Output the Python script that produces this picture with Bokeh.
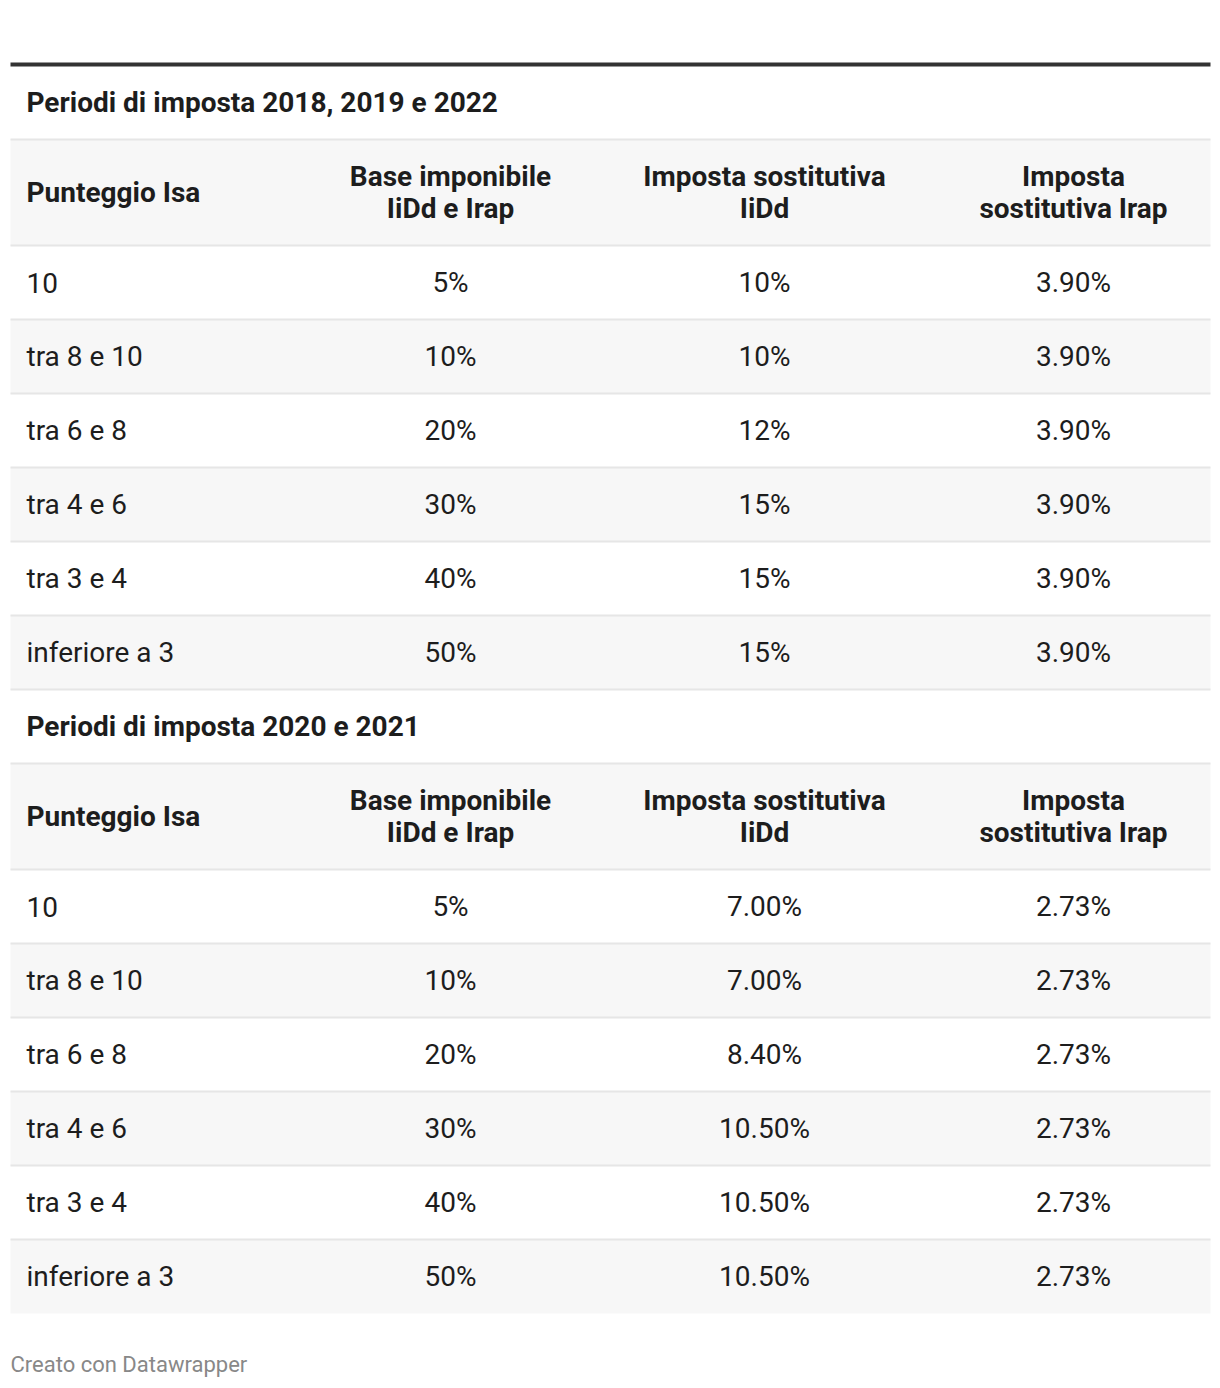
from bokeh.plotting import figure
from bokeh.models import Range1d, ColumnDataSource
from bokeh.core.properties import value
from bokeh.embed import file_html
from bokeh.resources import INLINE

# ---------------- data ----------------
section_titles = ["Periodi di imposta 2018, 2019 e 2022", "Periodi di imposta 2020 e 2021"]
column_headers = ["Punteggio Isa", "Base imponibile\nIiDd e Irap", "Imposta sostitutiva\nIiDd", "Imposta\nsostitutiva Irap"]
scores = ["10", "tra 8 e 10", "tra 6 e 8", "tra 4 e 6", "tra 3 e 4", "inferiore a 3"]
base_imponibile = ["5%", "10%", "20%", "30%", "40%", "50%"]
iidd_a = ["10%", "10%", "12%", "15%", "15%", "15%"]
irap_a = ["3.90%", "3.90%", "3.90%", "3.90%", "3.90%", "3.90%"]
iidd_b = ["7.00%", "7.00%", "8.40%", "10.50%", "10.50%", "10.50%"]
irap_b = ["2.73%", "2.73%", "2.73%", "2.73%", "2.73%", "2.73%"]
footer = "Creato con Datawrapper"

tables = [
    (section_titles[0], [scores, base_imponibile, iidd_a, irap_a]),
    (section_titles[1], [scores, base_imponibile, iidd_b, irap_b]),
]

# ---------------- layout ----------------
W, H = 1220, 1388
OFF = 0
FONT = value("Roboto")
DARK = "#1d1d1d"
BG_ALT = "#f7f7f7"
BORDER = "#e6e6e6"
FS = "28px"

p = figure(width=W, height=H, output_backend="svg", toolbar_location=None,
           x_range=Range1d(0, W), y_range=Range1d(H, 0),
           min_border=0, min_border_left=0, min_border_right=0,
           min_border_top=0, min_border_bottom=0)
p.xaxis.visible = False
p.yaxis.visible = False
p.grid.visible = False
p.outline_line_color = None
p.background_fill_color = "white"
p.border_fill_color = "white"

def px(x):
    return x - OFF

def py(y):
    return y - OFF

LEFT, RIGHT = px(10), px(1210)
col_x = [px(26), px(450), px(764), px(1073)]
col_align = ["left", "center", "center", "center"]

# top rule
p.quad(left=[LEFT], right=[RIGHT], top=[py(62)], bottom=[py(66)],
       fill_color="#333333", line_color=None)

section_tops = [66, 690]
TITLE_H = 73
HEADER_H = 106
ROW_H = 74

for t, (title, cols) in enumerate(tables):
    top = section_tops[t]
    title_y = top + 36
    p.text(x=[col_x[0]], y=[py(title_y)], text=[title], text_font=FONT,
           text_font_style="bold", text_font_size=FS, text_color=DARK,
           text_align="left", text_baseline="middle")

    h_top = top + TITLE_H
    h_bot = h_top + HEADER_H
    p.quad(left=[LEFT], right=[RIGHT], top=[py(h_top)], bottom=[py(h_bot)],
           fill_color=BG_ALT, line_color=None)
    h_mid = (h_top + h_bot) / 2
    for c, lab in enumerate(column_headers):
        lines = lab.split("\n")
        n = len(lines)
        for k, ln in enumerate(lines):
            yy = h_mid + (k - (n - 1) / 2) * 32
            p.text(x=[col_x[c]], y=[py(yy)], text=[ln], text_font=FONT,
                   text_font_style="bold", text_font_size=FS, text_color=DARK,
                   text_align=col_align[c], text_baseline="middle")

    nrows = len(cols[0])
    row_tops = [h_bot + i * ROW_H for i in range(nrows)]
    alt = [i for i in range(nrows) if i % 2 == 1]
    p.quad(left=[LEFT] * len(alt), right=[RIGHT] * len(alt),
           top=[py(row_tops[i]) for i in alt],
           bottom=[py(row_tops[i] + ROW_H) for i in alt],
           fill_color=BG_ALT, line_color=None)

    border_ys = [h_top, h_bot] + [row_tops[i] + ROW_H for i in range(nrows - 1)]
    if t == 0:
        border_ys.append(row_tops[-1] + ROW_H)
    p.segment(x0=[LEFT] * len(border_ys), x1=[RIGHT] * len(border_ys),
              y0=[py(y) for y in border_ys], y1=[py(y) for y in border_ys],
              line_color=BORDER, line_width=2)

    for c, colvals in enumerate(cols):
        src = ColumnDataSource(dict(
            x=[col_x[c]] * nrows,
            y=[py(row_tops[i] + ROW_H / 2) for i in range(nrows)],
            t=colvals))
        p.text(x="x", y="y", text="t", source=src, text_font=FONT,
               text_font_size=FS, text_color=DARK,
               text_align=col_align[c], text_baseline="middle")

p.text(x=[px(10)], y=[py(1364)], text=[footer], text_font=FONT,
       text_font_size="22px", text_color="#888888",
       text_align="left", text_baseline="middle")

open("out.html", "w").write(file_html(p, INLINE))
